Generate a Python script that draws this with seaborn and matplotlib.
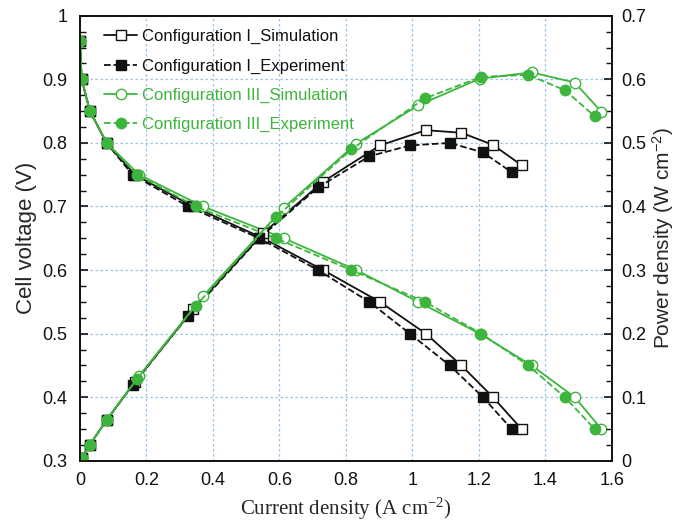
import matplotlib
matplotlib.use("Agg")
import matplotlib.pyplot as plt
import seaborn as sns
from matplotlib.ticker import MultipleLocator

sns.set_theme(style="white")
plt.rcParams['font.family'] = ['Liberation Sans', 'DejaVu Sans']
plt.rcParams['mathtext.default'] = 'regular'

# Cell voltage levels (V), shared by all series
voltage = [0.96, 0.9, 0.85, 0.8, 0.75, 0.7, 0.65, 0.6, 0.55, 0.5, 0.45, 0.4, 0.35]

# Current density (A cm-2)
i_c1_sim = [0, 0.005, 0.03, 0.08, 0.165, 0.34, 0.551, 0.731, 0.902, 1.04, 1.147, 1.242, 1.328]
i_c1_exp = [0, 0.005, 0.03, 0.08, 0.158, 0.325, 0.539, 0.716, 0.870, 0.992, 1.112, 1.212, 1.298]
i_c3_sim = [0, 0.005, 0.03, 0.08, 0.178, 0.37, 0.613, 0.831, 1.017, 1.202, 1.358, 1.488, 1.568]
i_c3_exp = [0, 0.005, 0.03, 0.08, 0.172, 0.348, 0.589, 0.816, 1.037, 1.207, 1.348, 1.458, 1.548]

# Power density (W cm-2)
p_c1_sim = [0, 0.0045, 0.0255, 0.064, 0.124, 0.238, 0.358, 0.439, 0.496, 0.520, 0.516, 0.497, 0.465]
p_c1_exp = [0, 0.0045, 0.0255, 0.064, 0.1185, 0.2275, 0.350, 0.430, 0.479, 0.496, 0.500, 0.485, 0.454]
p_c3_sim = [0, 0.0045, 0.0255, 0.064, 0.1335, 0.259, 0.398, 0.499, 0.559, 0.601, 0.611, 0.595, 0.549]
p_c3_exp = [0, 0.0045, 0.0255, 0.064, 0.129, 0.2436, 0.383, 0.490, 0.570, 0.604, 0.607, 0.583, 0.542]

labels = ["Configuration I_Simulation", "Configuration I_Experiment",
          "Configuration III_Simulation", "Configuration III_Experiment"]

BLACK = "#111111"
GREEN = "#3DB53D"

styles = [
    dict(color=BLACK, marker='s', ls='-', mfc='white'),
    dict(color=BLACK, marker='s', ls='--', mfc=BLACK),
    dict(color=GREEN, marker='o', ls='-', mfc='white'),
    dict(color=GREEN, marker='o', ls='--', mfc=GREEN),
]
currents = [i_c1_sim, i_c1_exp, i_c3_sim, i_c3_exp]
powers = [p_c1_sim, p_c1_exp, p_c3_sim, p_c3_exp]

fig = plt.figure(figsize=(6.8, 5.26), dpi=100)
ax = fig.add_axes([0.1176, 0.124, 0.9 - 0.1176, 0.970 - 0.124])
ax2 = ax.twinx()

for cur, pw, st, lab in zip(currents, powers, styles, labels):
    ms = 7.0 if st['marker'] == 's' else 7.5
    kw = dict(color=st['color'], linestyle=st['ls'], marker=st['marker'], markersize=ms,
              markerfacecolor=st['mfc'], markeredgecolor=st['color'], markeredgewidth=1.0,
              linewidth=1.3, sort=False, estimator=None)
    sns.lineplot(x=cur, y=voltage, ax=ax, label=lab, **kw)
    sns.lineplot(x=cur, y=pw, ax=ax2, legend=False, **kw)

ax.set_xlim(0, 1.6)
ax.set_ylim(0.3, 1.0)
ax2.set_ylim(0, 0.7)

ax.xaxis.set_major_locator(MultipleLocator(0.2))
ax.xaxis.set_minor_locator(MultipleLocator(0.05))
ax.yaxis.set_major_locator(MultipleLocator(0.1))
ax.yaxis.set_minor_locator(MultipleLocator(0.025))
ax2.yaxis.set_major_locator(MultipleLocator(0.1))
ax2.yaxis.set_minor_locator(MultipleLocator(0.025))

def fmt(v, pos):
    s = f"{v:.1f}"
    if s.endswith(".0"):
        s = s[:-2]
    return s
ax.xaxis.set_major_formatter(plt.FuncFormatter(fmt))
ax.yaxis.set_major_formatter(plt.FuncFormatter(fmt))
ax2.yaxis.set_major_formatter(plt.FuncFormatter(fmt))

ax.grid(True, which='major', color='#9CC2E5', linestyle=(0, (2, 2)), linewidth=0.9)
ax.set_axisbelow(True)

ax.tick_params(axis='both', which='both', direction='in', labelsize=13, colors=BLACK,
               top=False, right=False)
ax.tick_params(axis='both', which='major', length=6, width=1.2)
ax.tick_params(axis='both', which='minor', length=4, width=1.0)
ax.tick_params(axis='x', which='both', pad=8)
ax.tick_params(axis='y', which='both', pad=9)
ax2.tick_params(axis='y', which='both', direction='in', labelsize=13, colors=BLACK, pad=7)
ax2.tick_params(axis='y', which='major', length=6, width=1.2)
ax2.tick_params(axis='y', which='minor', length=4, width=1.0)

for a in (ax, ax2):
    for sp in a.spines.values():
        sp.set_color(BLACK)
        sp.set_linewidth(1.2)
        sp.set_visible(True)

ax.set_xlabel("Current density (A cm$^{-2}$)", fontsize=15,
              family=['Liberation Serif', 'DejaVu Serif'], labelpad=5)
ax.set_ylabel("Cell voltage (V)", fontsize=16, labelpad=4)
ax2.set_ylabel("Power density (W cm$^{-2}$)", fontsize=15, labelpad=2)

if ax.legend_ is not None:
    ax.legend_.remove()
h, l = ax.get_legend_handles_labels()
leg = ax2.legend(h, l, loc='upper left', frameon=False, fontsize=12,
                 handlelength=2.0, handletextpad=0.3, labelspacing=0.85,
                 bbox_to_anchor=(0.02, 1.0), borderaxespad=0.4)
for txt, st in zip(leg.get_texts(), styles):
    txt.set_color(st['color'])

fig.savefig("out.png", dpi=100)
